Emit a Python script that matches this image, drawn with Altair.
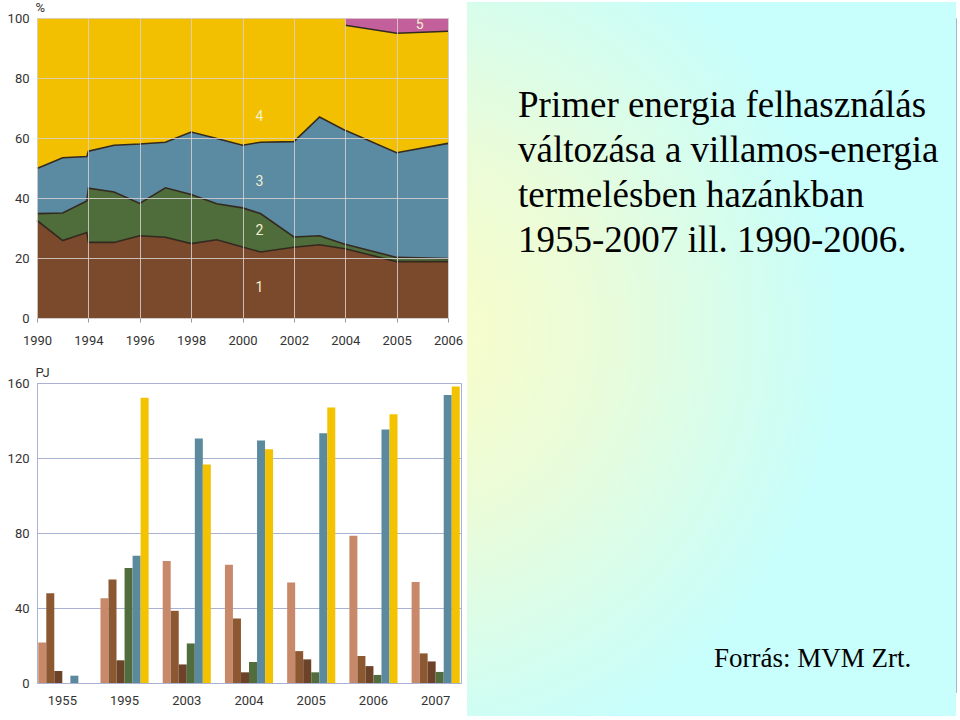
import altair as alt
import pandas as pd

# ---------------- top chart: share of primary energy (%) ----------------
top_tick_labels = ["1990", "1994", "1996", "1998", "2000", "2002", "2004", "2005", "2006"]
top_x = [0, 0.5, 0.97, 1.0, 1.5, 2.0, 2.5, 3.0, 3.5, 4.0, 4.35, 5.0, 5.5, 5.99, 6.0, 7.0, 8.0]
top_1 = [32.5, 25.8, 28.5, 25.2, 25.2, 27.4, 26.9, 24.8, 26.1, 23.7, 22.0, 23.6, 24.4, 23.1, 23.1, 18.8, 18.8]
top_2 = [34.8, 35.0, 39.0, 43.3, 42.0, 38.2, 43.4, 41.2, 38.1, 36.7, 34.8, 27.0, 27.4, 24.6, 24.6, 20.2, 19.8]
top_3 = [49.8, 53.4, 53.8, 55.6, 57.6, 58.0, 58.6, 62.0, 59.8, 57.6, 58.6, 58.8, 67.0, 62.6, 62.6, 55.1, 58.2]
top_4 = [100, 100, 100, 100, 100, 100, 100, 100, 100, 100, 100, 100, 100, 100, 97.6, 94.9, 95.6]
top_5 = [100] * len(top_x)

layer_colors = ["#7b4a2c", "#4f6c3b", "#5b8ba3", "#f2c000", "#c3609c"]

wide_df = pd.DataFrame({
    "x": top_x, "b0": [0] * len(top_x), "b1": top_1, "b2": top_2, "b3": top_3, "b4": top_4, "b5": top_5,
})

edges = []
bounds = [top_1, top_2, top_3, top_4]
for k, name in enumerate(["e1", "e2", "e3", "e4"]):
    for i, xv in enumerate(top_x):
        if name == "e4" and xv < 6:
            continue
        edges.append({"x": xv, "v": bounds[k][i], "edge": name})
edges_df = pd.DataFrame(edges)

lab_df = pd.DataFrame({
    "x": [4.33, 4.33, 4.33, 4.33, 7.45],
    "y": [10, 29, 45.5, 67, 97.7],
    "t": ["1", "2", "3", "4", "5"],
})

FONT_AX = "Roboto, sans-serif"
label_expr = "[" + ",".join("'%s'" % s for s in top_tick_labels) + "][round(datum.value)]"

xs_top = alt.Scale(domain=[0, 8], nice=False, zero=False)
ys_top = alt.Scale(domain=[0, 100], nice=False)

x_axis_top = alt.Axis(values=list(range(9)), labelExpr=label_expr, grid=True, gridColor="#d8d0d0",
                      gridOpacity=0.85, domain=False, tickSize=4, tickColor="#999999",
                      labelPadding=12, labelFont=FONT_AX, labelFontSize=13, labelColor="#333333",
                      labelFlush=False, labelOverlap=False, title=None, zindex=1)
y_axis_top = alt.Axis(values=[0, 20, 40, 60, 80, 100], grid=True, gridColor="#d8d0d0", gridOpacity=0.85,
                      domain=False, ticks=False, labelPadding=8, labelFont=FONT_AX, labelFontSize=13,
                      labelColor="#333333", title="%", titleAngle=0, titleFont=FONT_AX,
                      titleFontSize=13, titleFontWeight="normal", titleColor="#333333",
                      titleX=-2, titleY=-4, titleAlign="left", titleBaseline="bottom", zindex=1)

band_layers = []
for k in range(5):
    band_layers.append(
        alt.Chart(wide_df).mark_area(color=layer_colors[k], opacity=1).encode(
            x=alt.X("x:Q", scale=xs_top, axis=x_axis_top),
            y=alt.Y("b%d:Q" % k, scale=ys_top, axis=y_axis_top),
            y2=alt.Y2("b%d:Q" % (k + 1)),
        )
    )

lines = alt.Chart(edges_df).mark_line(color="#33291f", strokeWidth=1.6).encode(
    x=alt.X("x:Q", scale=xs_top, axis=x_axis_top),
    y=alt.Y("v:Q", scale=ys_top, axis=y_axis_top),
    detail="edge:N",
    order=alt.Order("x:Q"),
)
nums = alt.Chart(lab_df).mark_text(color="#f3efcf", fontSize=14, font=FONT_AX).encode(
    x=alt.X("x:Q", scale=xs_top, axis=x_axis_top),
    y=alt.Y("y:Q", scale=ys_top, axis=y_axis_top),
    text="t:N",
)
top_chart = alt.layer(*band_layers, lines, nums).properties(width=411, height=300)

# ---------------- bottom chart: PJ by source ----------------
years = ["1955", "1995", "2003", "2004", "2005", "2006", "2007"]
series = ["s1", "s2", "s3", "s4", "s5", "s6"]
series_colors = ["#c8896a", "#8b5832", "#6c4329", "#516d3d", "#5b8a9f", "#f3c200"]
s1 = [21.6, 45.2, 65.1, 63.1, 53.6, 78.6, 53.9]
s2 = [47.9, 55.2, 38.5, 34.4, 17.0, 14.4, 15.8]
s3 = [6.4, 12.1, 9.9, 5.7, 12.6, 9.0, 11.5]
s4 = [0, 61.4, 21.1, 11.2, 5.7, 4.3, 5.9]
s5 = [3.9, 67.9, 130.4, 129.3, 133.2, 135.2, 153.6]
s6 = [0, 152.2, 116.5, 124.7, 146.9, 143.3, 158.2]

rows = []
for name, vals in zip(series, [s1, s2, s3, s4, s5, s6]):
    for y, v in zip(years, vals):
        rows.append({"year": y, "series": name, "value": v})
bar_df = pd.DataFrame(rows)

bottom_chart = alt.Chart(bar_df).mark_bar(size=8).encode(
    x=alt.X("year:N", sort=years,
            scale=alt.Scale(paddingInner=0.226, paddingOuter=0.02),
            axis=alt.Axis(title=None, labelAngle=0, ticks=False, domain=False, labelPadding=11,
                          labelFont=FONT_AX, labelFontSize=13, labelColor="#333333")),
    xOffset=alt.XOffset("series:N", sort=series),
    y=alt.Y("value:Q", scale=alt.Scale(domain=[0, 160], nice=False),
            axis=alt.Axis(values=[0, 40, 80, 120, 160], grid=True, gridColor="#a9b2d2", domain=False,
                          ticks=False, labelPadding=8, labelFont=FONT_AX, labelFontSize=13,
                          labelColor="#333333", title="PJ", titleAngle=0, titleFont=FONT_AX,
                          titleFontSize=13, titleFontWeight="normal", titleColor="#333333",
                          titleX=-2, titleY=-4, titleAlign="left", titleBaseline="bottom")),
    color=alt.Color("series:N", scale=alt.Scale(domain=series, range=series_colors), legend=None),
).properties(width=424, height=300)

# ---------------- right panel: title text ----------------
title_lines = ["Primer energia felhasználás", "változása a villamos-energia",
               "termelésben hazánkban", "1955-2007 ill. 1990-2006."]
source_text = "Forrás: MVM Zrt."

PW, PH = 489, 714
TOP = -16
one = alt.Data(values=[{"a": 1}])
bg = alt.Chart(one).mark_rect(
    fill=alt.RadialGradient(
        gradient="radial",
        stops=[alt.GradientStop(offset=0, color="#fdfdc6"),
               alt.GradientStop(offset=0.45, color="#eafcd9"),
               alt.GradientStop(offset=1, color="#c8fefb")],
        x1=0.06, y1=0.46, r1=0, x2=0.06, y2=0.46, r2=0.62,
    )
).encode(x=alt.value(0), x2=alt.value(PW), y=alt.value(TOP), y2=alt.value(TOP + PH))

txt_layers = [bg]
for i, line in enumerate(title_lines):
    txt_layers.append(
        alt.Chart(one).mark_text(text=line, font="Liberation Serif", fontSize=37, color="#000000",
                                 align="left", baseline="alphabetic")
        .encode(x=alt.value(51), y=alt.value(99 + 45 * i))
    )
txt_layers.append(
    alt.Chart(one).mark_text(text=source_text, font="Liberation Serif", fontSize=27, color="#000000",
                             align="left", baseline="alphabetic")
    .encode(x=alt.value(247), y=alt.value(649))
)
right_panel = alt.layer(*txt_layers).properties(width=PW, height=PH - 40)

left = alt.vconcat(top_chart, bottom_chart, spacing=17).resolve_scale(color="independent")
chart = alt.hconcat(left, right_panel, spacing=2).resolve_scale(color="independent").properties(
    padding={"left": 6, "top": 0, "right": 0, "bottom": 0}, background="#ffffff"
).configure_view(stroke="#aab3d0")

chart.save("out.html", embed_options={"renderer": "svg", "actions": False})
